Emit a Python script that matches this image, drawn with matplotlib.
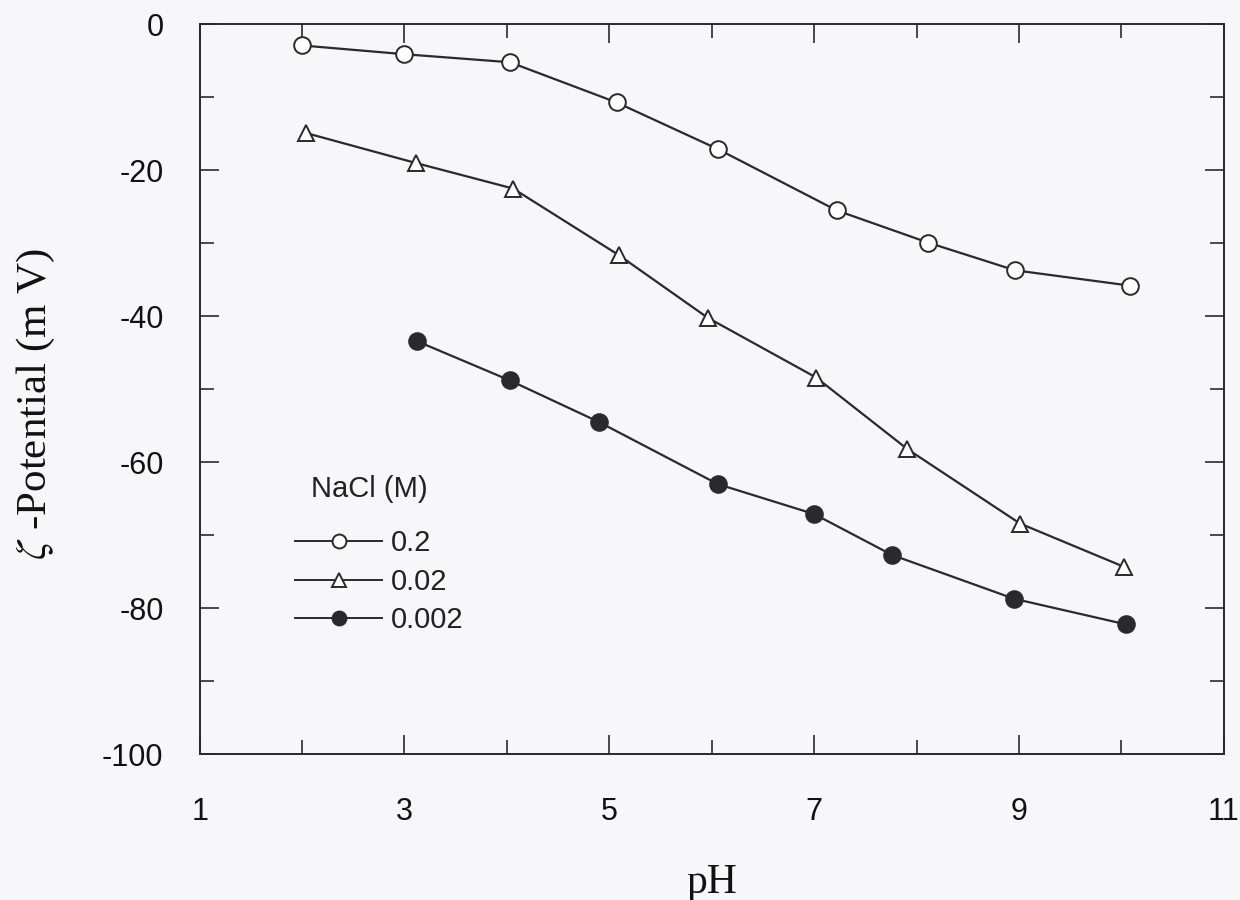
import numpy as np
import matplotlib.pyplot as plt

plt.rcParams['axes.unicode_minus'] = False
plt.rcParams['mathtext.fontset'] = 'stix'

# pH vs zeta potential, three NaCl concentrations
ph_02 = [2.0, 3.0, 4.03, 5.07, 6.06, 7.22, 8.11, 8.96, 10.08]
zeta_02 = [-2.9, -4.1, -5.2, -10.7, -17.1, -25.5, -29.9, -33.7, -35.8]

ph_002 = [2.04, 3.11, 4.06, 5.09, 5.96, 7.02, 7.91, 9.01, 10.02]
zeta_002 = [-14.9, -19.0, -22.5, -31.6, -40.2, -48.4, -58.2, -68.4, -74.3]

ph_0002 = [3.12, 4.03, 4.90, 6.06, 7.0, 7.76, 8.95, 10.04]
zeta_0002 = [-43.4, -48.8, -54.5, -63.0, -67.1, -72.7, -78.7, -82.2]

labels = ["0.2", "0.02", "0.002"]

ink = "#2a2a2e"
bg = "#f7f7f9"
sans = ["Liberation Sans", "DejaVu Sans"]
serif = ["Liberation Serif", "DejaVu Serif"]

fig = plt.figure(figsize=(12.4, 9), dpi=100, facecolor=bg)
ax = fig.add_axes([0.161, 0.162, 0.826, 0.811], facecolor=bg)

ax.plot(ph_02, zeta_02, color=ink, lw=1.6, marker="o", ms=12,
        mfc="white", mec=ink, mew=1.4, label=labels[0])
ax.plot(ph_002, zeta_002, color=ink, lw=1.6, marker="^", ms=12,
        mfc="white", mec=ink, mew=1.4, label=labels[1])
ax.plot(ph_0002, zeta_0002, color=ink, lw=1.6, marker="o", ms=12,
        mfc=ink, mec=ink, mew=1.4, label=labels[2])

ax.set_xlim(1, 11)
ax.set_ylim(-100, 0)
ax.set_xticks([1, 3, 5, 7, 9, 11])
ax.set_xticks(np.arange(2, 11, 1), minor=True)
ax.set_yticks([0, -20, -40, -60, -80, -100])
ax.set_yticks(np.arange(-90, 0, 10), minor=True)

ax.tick_params(which="both", direction="in", top=True, right=True,
               color=ink, width=1.2)
ax.tick_params(which="major", length=14, labelsize=22,
               labelcolor="#111111")
ax.tick_params(axis="x", which="major", pad=31)
ax.tick_params(axis="y", which="major", pad=26)
ax.tick_params(which="minor", length=10)
for lab in ax.get_xticklabels() + ax.get_yticklabels():
    lab.set_family(sans)

for s in ax.spines.values():
    s.set_color(ink)
    s.set_linewidth(1.4)

ax.set_xlabel("pH", family=serif, fontsize=30, labelpad=26,
              color="#111111")
ax.set_ylabel(r"$\zeta$ -Potential (m V)", family=serif,
              fontsize=31, color="#111111")
ax.yaxis.set_label_coords(-0.139, 0.48)

# legend: title drawn as its own text, entries below it
ax.text(0.109, 0.363, "NaCl (M)", transform=ax.transAxes, ha="left",
        va="center", family=sans, fontsize=21, color="#222222")
leg = ax.legend(loc="upper left", bbox_to_anchor=(0.093, 0.308),
                frameon=False, handlelength=3.0, handletextpad=0.3,
                labelspacing=0.36, borderpad=0, borderaxespad=0,
                prop={"family": sans, "size": 21})
for h in leg.legend_handles:
    h.set_markersize(10)
    h.set_linewidth(1.4)
for t in leg.get_texts():
    t.set_color("#222222")

fig.savefig("out.png", dpi=100, facecolor=bg)
